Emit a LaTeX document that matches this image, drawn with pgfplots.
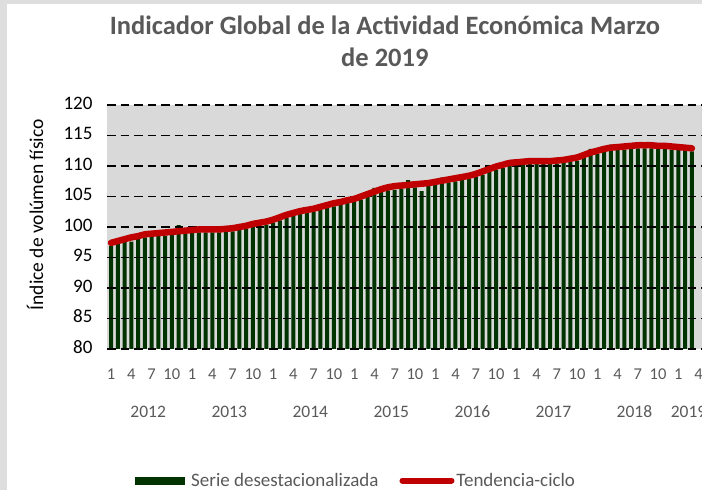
\documentclass[border=0pt]{standalone}
\usepackage{fontspec}
\setmainfont{Carlito}
\usepackage{pgfplots}
\pgfplotsset{compat=1.18}
\definecolor{barc}{RGB}{0,51,0}
\definecolor{trendc}{RGB}{192,0,0}
\definecolor{bgc}{RGB}{217,217,217}
\definecolor{txtc}{RGB}{89,89,89}

% bars go under the dashed grid, the trend line over it
\pgfplotsset{
  layers/mine/.define layer set={
    axis background,bars,axis grid,axis ticks,axis lines,axis tick labels,pre main,main,axis descriptions,axis foreground
  }{
    grid style={/pgfplots/on layer=axis grid},
    tick style={/pgfplots/on layer=axis ticks},
    axis line style={/pgfplots/on layer=axis lines},
    label style={/pgfplots/on layer=axis descriptions},
    legend style={/pgfplots/on layer=axis descriptions},
    title style={/pgfplots/on layer=axis descriptions},
    ticklabel style={/pgfplots/on layer=axis tick labels},
    axis background@ style={/pgfplots/on layer=axis background},
  },
}

\begin{document}
\begin{tikzpicture}
% thin grey frame at the top and left edges
\fill[black!13] (0pt,486pt) rectangle (702pt,490pt);
\fill[black!13] (0pt,0pt) rectangle (7pt,490pt);
\begin{axis}[
  set layers=mine,
  at={(107pt,141pt)}, anchor=south west,
  scale only axis, width=595pt, height=244pt,
  xmin=-0.6, xmax=87.5, ymin=80, ymax=120,
  ytick={80,85,...,120},
  xtick={0,3,...,87},
  xticklabels={1,4,7,10,1,4,7,10,1,4,7,10,1,4,7,10,1,4,7,10,1,4,7,10,1,4,7,10,1,4},
  extra x ticks={5.5,17.5,29.5,41.5,53.5,65.5,77.5,85.5},
  extra x tick labels={2012,2013,2014,2015,2016,2017,2018,2019},
  extra x tick style={xticklabel style={yshift=-38pt, font=\fontsize{17.5}{20}\selectfont}},
  typeset ticklabels with strut,
  major tick length=0pt,
  axis line style={draw=none},
  axis background/.style={fill=bgc},
  ymajorgrids,
  major grid style={black, line width=1.8pt, dash pattern=on 8.5pt off 5pt},
  /pgf/number format/assume math mode=true,
  xticklabel style={font=\fontsize{16.5}{20}\selectfont, text=txtc, yshift=-13pt},
  yticklabel style={font=\fontsize{19}{22}\selectfont, text=black, xshift=-11pt},
  title={Indicador Global de la Actividad Económica Marzo\\de 2019},
  title style={font=\fontsize{26.5}{32}\selectfont\bfseries, text=txtc, align=center,
    at={(0.467,1)}, anchor=south, yshift=29pt},
  ylabel={Índice de volúmen físico},
  ylabel style={font=\fontsize{19.5}{22}\selectfont, text=black,
    at={(axis description cs:-0.121,0.55)}, anchor=center},
  legend style={draw=none, fill=none, legend columns=2,
    font=\fontsize{19}{22}\selectfont, text=txtc,
    at={(0,0)}, anchor=north west, xshift=25pt, yshift=-120pt,
    /tikz/every even column/.append style={column sep=19pt}},
]
\addplot[ybar, bar width=4pt, fill=barc, draw=none, on layer=bars,
  legend image code/.code={\fill[barc] (0pt,-4pt) rectangle (50pt,4pt); \path (54pt,0pt);}]
  coordinates {
  (0,96.9) (1,97.2) (2,97.5) (3,97.6) (4,98.0) (5,98.3) (6,98.4) (7,98.5)
  (8,98.6) (9,98.7) (10,100.3) (11,98.9) (12,99.0) (13,99.1) (14,99.1) (15,99.1)
  (16,99.1) (17,99.2) (18,99.3) (19,99.5) (20,99.7) (21,100.0) (22,100.2) (23,100.4)
  (24,100.7) (25,101.1) (26,101.5) (27,101.8) (28,102.1) (29,102.3) (30,102.5) (31,102.8)
  (32,103.1) (33,103.4) (34,103.6) (35,103.9) (36,104.1) (37,104.5) (38,104.9) (39,106.4)
  (40,105.7) (41,106.0) (42,106.1) (43,106.3) (44,107.7) (45,106.5) (46,105.9) (47,106.7)
  (48,106.9) (49,108.1) (50,107.3) (51,107.5) (52,107.7) (53,107.9) (54,108.2) (55,108.6)
  (56,109.0) (57,109.4) (58,109.7) (59,110.0) (60,110.1) (61,110.2) (62,110.3) (63,110.3)
  (64,110.3) (65,110.3) (66,110.4) (67,110.5) (68,110.7) (69,110.9) (70,111.3) (71,112.8)
  (72,112.0) (73,112.3) (74,113.5) (75,112.6) (76,112.7) (77,112.8) (78,112.9) (79,112.9)
  (80,112.9) (81,112.8) (82,112.8) (83,112.7) (84,112.6) (85,112.5) (86,112.4)
  };
\addlegendentry{Serie desestacionalizada}
\addplot[trendc, line width=6.5pt, smooth, line cap=round, line join=round,
  legend image code/.code={\draw[trendc, line width=6pt, line cap=round] (3pt,0pt) -- (52pt,0pt);}]
  coordinates {
  (0,97.4) (1,97.7) (2,98.0) (3,98.3) (4,98.5) (5,98.8) (6,98.9) (7,99.0)
  (8,99.1) (9,99.2) (10,99.3) (11,99.4) (12,99.5) (13,99.6) (14,99.6) (15,99.6)
  (16,99.6) (17,99.7) (18,99.8) (19,100.0) (20,100.2) (21,100.5) (22,100.7) (23,100.9)
  (24,101.2) (25,101.6) (26,102.0) (27,102.3) (28,102.6) (29,102.8) (30,103.0) (31,103.3)
  (32,103.6) (33,103.9) (34,104.1) (35,104.4) (36,104.6) (37,105.0) (38,105.4) (39,105.8)
  (40,106.2) (41,106.5) (42,106.7) (43,106.8) (44,106.9) (45,107.0) (46,107.1) (47,107.2)
  (48,107.4) (49,107.6) (50,107.8) (51,108.0) (52,108.2) (53,108.4) (54,108.7) (55,109.1)
  (56,109.5) (57,109.9) (58,110.2) (59,110.5) (60,110.6) (61,110.7) (62,110.8) (63,110.8)
  (64,110.8) (65,110.8) (66,110.9) (67,111.0) (68,111.2) (69,111.4) (70,111.8) (71,112.2)
  (72,112.5) (73,112.8) (74,113.0) (75,113.1) (76,113.2) (77,113.3) (78,113.4) (79,113.4)
  (80,113.4) (81,113.3) (82,113.3) (83,113.2) (84,113.1) (85,113.0) (86,112.9)
  };
\addlegendentry{Tendencia-ciclo}
\end{axis}
\pgfresetboundingbox
\useasboundingbox (0pt,0pt) rectangle (702pt,490pt);
\end{tikzpicture}
\end{document}
